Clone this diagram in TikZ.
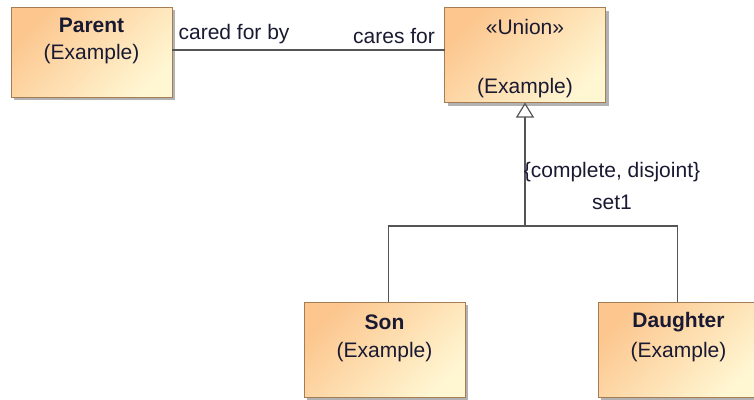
\documentclass[tikz,border=0pt]{standalone}
\usepackage{fontspec}
\setmainfont{Liberation Sans}
\usetikzlibrary{arrows.meta,positioning,shadows}
\definecolor{boxtop}{RGB}{252,198,142}
\definecolor{boxbot}{RGB}{255,246,210}
\definecolor{boxline}{RGB}{165,125,85}
\definecolor{linecol}{RGB}{85,85,85}
\definecolor{txtcol}{RGB}{25,25,50}

\begin{document}
\begin{tikzpicture}[
  x=1pt, y=-1pt,
  font=\fontsize{21}{25}\selectfont,
  cls/.style={rectangle, draw=boxline, line width=1pt,
              top color=boxtop, bottom color=boxbot, shading angle=45,
              minimum width=161pt, minimum height=#1, inner sep=0pt, outer sep=0pt,
              drop shadow={shadow xshift=3pt, shadow yshift=-3pt, fill=black!30, opacity=1}},
  cls/.default=95pt,
  txt/.style={text=txtcol, inner sep=0pt},
  ttl/.style={txt, font=\fontsize{21}{25}\selectfont\bfseries},
  assoc/.style={draw=linecol, line width=1.2pt},
  gen/.style={draw=linecol, line width=1.2pt, -{Triangle[open, length=15pt, width=18pt]}},
]
  \useasboundingbox (0,0) rectangle (754,399);

  % Classes
  \node[cls=90pt] (parent) at (91.5,52) {};
  \node[ttl] (parentname) at ([yshift=-18pt]parent.north) {Parent};
  \node[txt] (parentns) at ([yshift=-47pt]parent.north) {(Example)};

  \node[cls] (union) at (525,55) {};
  \node[txt] (unionst) at ([yshift=-19pt]union.north) {«Union»};
  \node[txt] (unionns) at ([yshift=14pt]union.south) {(Example)};

  \node[cls] (son) at (384.5,349.5) {};
  \node[ttl] (sonname) at ([yshift=-20pt]son.north) {Son};
  \node[txt] (sonns) at ([yshift=-50pt]son.north) {(Example)};

  \node[cls] (daughter) at (678.5,349.5) {};
  \node[ttl] (daughtername) at ([yshift=-20pt]daughter.north) {Daughter};
  \node[txt] (daughterns) at ([yshift=-50pt]daughter.north) {(Example)};

  % Association
  \draw[assoc] ([yshift=2pt]parent.east) -- ([yshift=2pt]parent.east -| union.west)
    node[txt, pos=0, anchor=south west, xshift=6pt, yshift=6pt] (caredby) {cared for by}
    node[txt, pos=1, anchor=south east, xshift=-9pt, yshift=6pt] (caresfor) {cares for};

  % Generalization set
  \coordinate (split) at (union.south |- 0,226);
  \draw[gen] (split) -- (union.south);
  \draw[assoc] ([xshift=4pt]son.north) |- (split) -| ([xshift=-1pt]daughter.north);
  \node[txt] (gsetcons) at (612,172) {\{complete, disjoint\}};
  \node[txt] (gsetname) at (612,202) {set1};

\end{tikzpicture}
\end{document}
